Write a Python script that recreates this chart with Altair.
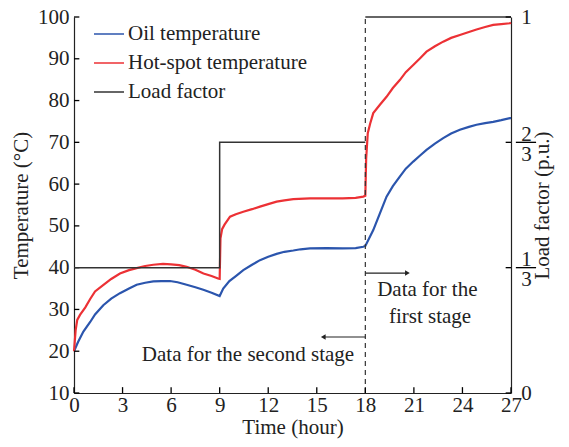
import altair as alt
import pandas as pd

# ---- data ----
oil_time = [0, 0.25, 0.58, 1.0, 1.3, 1.81, 2.3, 2.84, 3.4, 3.87, 4.4, 4.9, 5.4, 5.93,
            6.4, 6.96, 7.5, 7.99, 8.5, 9.0, 9.22, 9.6, 10.0, 10.46, 11.0, 11.49, 12.0,
            12.52, 13.0, 13.55, 14.0, 14.58, 15.6, 16.6, 17.4, 17.87, 18.0, 18.49, 18.9,
            19.31, 19.7, 20.13, 20.5, 20.96, 21.4, 21.78, 22.3, 22.81, 23.3, 23.84, 24.4,
            24.87, 25.4, 25.9, 26.4, 26.93, 27.0]
oil_temp = [20.0, 22.2, 24.7, 27.0, 28.8, 31.0, 32.6, 33.9, 35.0, 35.9, 36.4, 36.7, 36.8, 36.8,
            36.5, 35.9, 35.3, 34.7, 34.0, 33.2, 35.0, 36.8, 38.0, 39.4, 40.7, 41.8, 42.6,
            43.3, 43.8, 44.1, 44.4, 44.6, 44.7, 44.6, 44.7, 45.0, 45.2, 49.0, 53.0,
            57.0, 59.5, 61.8, 63.7, 65.4, 66.9, 68.2, 69.7, 71.0, 72.1, 73.0, 73.7,
            74.2, 74.6, 74.9, 75.3, 75.8, 75.8]

hot_time = [0, 0.1, 0.2, 0.37, 0.7, 1.0, 1.3, 1.8, 2.3, 2.84, 3.4, 3.87, 4.4, 4.9, 5.5,
            6.0, 6.5, 6.96, 7.5, 8.0, 8.5, 8.9, 9.0, 9.05, 9.15, 9.3, 9.64, 10.0, 10.46,
            11.0, 11.49, 12.0, 12.52, 13.0, 13.55, 14.58, 15.6, 16.6, 17.4, 17.87, 18.0,
            18.05, 18.15, 18.3, 18.49, 18.9, 19.31, 19.7, 20.13, 20.5, 20.96, 21.4, 21.78,
            22.3, 22.81, 23.3, 23.84, 24.4, 24.87, 25.4, 25.9, 26.4, 26.93, 27.0]
hot_temp = [20.0, 25.0, 27.5, 28.7, 30.5, 32.5, 34.3, 35.8, 37.3, 38.6, 39.4, 39.9, 40.4, 40.7, 40.9,
            40.8, 40.6, 40.2, 39.5, 38.6, 38.0, 37.4, 37.3, 47.0, 49.2, 50.3, 52.2, 52.8, 53.4,
            54.0, 54.6, 55.2, 55.8, 56.1, 56.4, 56.6, 56.6, 56.6, 56.7, 57.0, 57.2,
            66.0, 72.2, 74.5, 77.0, 79.0, 80.9, 83.0, 84.9, 86.8, 88.5, 90.2, 91.7,
            93.0, 94.1, 95.0, 95.7, 96.4, 97.0, 97.6, 98.1, 98.3, 98.5, 98.6]

load_time = [0, 9, 9, 18, 18, 27]
load_value = [1 / 3, 1 / 3, 2 / 3, 2 / 3, 1, 1]
load_seg = [0, 0, 0, 0, 1, 1]

series_names = ["Oil temperature", "Hot-spot temperature", "Load factor"]
series_colors = ["#2b55ad", "#ec3135", "#333333"]

x_ticks = [0, 3, 6, 9, 12, 15, 18, 21, 24, 27]
y_ticks = [10, 20, 30, 40, 50, 60, 70, 80, 90, 100]
load_ticks = [0, 1 / 3, 2 / 3, 1]
fraction_ticks = [1 / 3, 2 / 3]

split_time = [18]
arrow_start = [18, 18]
arrow_end = [20.6, 15.4]
arrow_y = [38.7, 23.4]
arrow_shape = ["triangle-right", "triangle-left"]

ann_text = ["Data for the", "first stage", "Data for the second stage"]
ann_x = [21.83, 22.0, 10.75]
ann_y = [34.7, 28.2, 19.1]

FONT = "Liberation Serif"
INK = "#222222"

# ---- tables ----
temp_df = pd.DataFrame({
    "t": oil_time + hot_time,
    "T": oil_temp + hot_temp,
    "series": [series_names[0]] * len(oil_time) + [series_names[1]] * len(hot_time),
})
load_df = pd.DataFrame({
    "t": load_time, "L": load_value, "seg": load_seg,
    "i": list(range(len(load_time))), "series": series_names[2],
})
arrow_df = pd.DataFrame({"x": arrow_start, "x2": arrow_end, "y": arrow_y, "shape": arrow_shape})
ann_df = pd.DataFrame({"text": ann_text, "x": ann_x, "y": ann_y})
xt_df = pd.DataFrame({"v": x_ticks, "lo": 10.0, "hi": 11.4})
yt_df = pd.DataFrame({"v": y_ticks, "lo": 0.0, "hi": 0.33})
rt_df = pd.DataFrame({"v": load_ticks, "lo": 26.67, "hi": 27.0})
fb_df = pd.DataFrame({"v": fraction_ticks, "lo": 27.3, "hi": 28.55})

xscale = alt.Scale(domain=[0, 27], nice=False)
tscale = alt.Scale(domain=[10, 100], nice=False)
lscale = alt.Scale(domain=[0, 1], nice=False)
cscale = alt.Scale(domain=series_names, range=series_colors)

x_enc = alt.X("t:Q", scale=xscale,
              axis=alt.Axis(values=x_ticks, title="Time (hour)", tickSize=0,
                            labelFlush=False, labelPadding=1, titlePadding=1))

temp_lines = alt.Chart(temp_df).mark_line(strokeWidth=2.2).encode(
    x=x_enc,
    y=alt.Y("T:Q", scale=tscale,
            axis=alt.Axis(values=y_ticks, title="Temperature (°C)", tickSize=0,
                          labelPadding=5, titlePadding=6)),
    color=alt.Color("series:N", scale=cscale,
                    legend=alt.Legend(orient="none", legendX=19, legendY=1, title=None,
                                      symbolType="stroke", symbolSize=900,
                                      symbolStrokeWidth=1.5, labelOffset=3,
                                      labelFontSize=21, labelFont=FONT, labelColor=INK,
                                      labelLimit=400, rowPadding=3, padding=0)),
    detail="series:N",
)

dash_rule = alt.Chart(pd.DataFrame({"x": split_time})).mark_rule(
    color="#333333", strokeDash=[5, 4], strokeWidth=1.2).encode(
    x=alt.X("x:Q", scale=xscale), y=alt.datum(10), y2=alt.datum(100))

arrows = alt.Chart(arrow_df).mark_rule(color="#222222", strokeWidth=1.2).encode(
    x=alt.X("x:Q", scale=xscale), x2="x2:Q", y=alt.Y("y:Q", scale=tscale))
heads = alt.Chart(arrow_df).mark_point(filled=True, size=30, color="#222222", opacity=1).encode(
    x=alt.X("x2:Q", scale=xscale), y=alt.Y("y:Q", scale=tscale),
    shape=alt.Shape("shape:N", scale=None))

anns = alt.Chart(ann_df).mark_text(font=FONT, fontSize=21, color=INK, align="center",
                                   baseline="middle").encode(
    x=alt.X("x:Q", scale=xscale), y=alt.Y("y:Q", scale=tscale), text="text:N")

# inward tick marks (short rules in data units)
xtick_layer = alt.Chart(xt_df).mark_rule(strokeWidth=1.3, color="#000000").encode(
    x=alt.X("v:Q", scale=xscale), y=alt.Y("lo:Q", scale=tscale), y2="hi:Q")
ytick_layer = alt.Chart(yt_df).mark_rule(strokeWidth=1.3, color="#000000").encode(
    y=alt.Y("v:Q", scale=tscale), x=alt.X("lo:Q", scale=xscale), x2="hi:Q")

temp_group = alt.layer(temp_lines, dash_rule, arrows, heads, anns, xtick_layer, ytick_layer)

label_expr = ("datum.value < 0.01 ? '0' : datum.value > 0.99 ? '1' : "
              "datum.value < 0.5 ? ['1', '3'] : ['2', '3']")

load_line = alt.Chart(load_df).mark_line(strokeWidth=1.5).encode(
    x=alt.X("t:Q", scale=xscale),
    y=alt.Y("L:Q", scale=lscale,
            axis=alt.Axis(orient="right", values=load_ticks, labelExpr=label_expr,
                          title="Load factor (p.u.)", titleAngle=270, tickSize=0,
                          labelAlign="center", labelPadding=15, labelLineHeight=20,
                          labelOffset={"condition": {"test": "datum.value > 0.01 && datum.value < 0.99",
                                                     "value": -8},
                                       "value": 0},
                          titlePadding=21)),
    color=alt.Color("series:N", scale=cscale),
    detail="seg:N",
    order="i:Q",
)
rtick_layer = alt.Chart(rt_df).mark_rule(strokeWidth=1.3, color="#000000").encode(
    y=alt.Y("v:Q", scale=lscale), x=alt.X("lo:Q", scale=xscale), x2="hi:Q")
# fraction bars of the 1/3 and 2/3 labels
frac_bars = alt.Chart(fb_df).mark_rule(strokeWidth=1.3, color="#000000").encode(
    y=alt.Y("v:Q", scale=lscale), x=alt.X("lo:Q", scale=xscale), x2="hi:Q")

load_group = alt.layer(load_line, rtick_layer, frac_bars)

chart = alt.layer(temp_group, load_group).resolve_scale(y="independent").properties(
    width=437, height=376,
    padding={"left": 66, "top": 9, "right": 50, "bottom": 46},
    autosize=alt.AutoSizeParams(type="none"),
).configure_view(stroke=None).configure_axis(
    grid=False, domainColor=INK, domainWidth=1.2, labelFont=FONT, titleFont=FONT,
    labelFontSize=21, titleFontSize=21, titleFontWeight="normal",
    labelColor=INK, titleColor=INK,
)

chart.save("out.html", embed_options={"renderer": "svg", "actions": False})
